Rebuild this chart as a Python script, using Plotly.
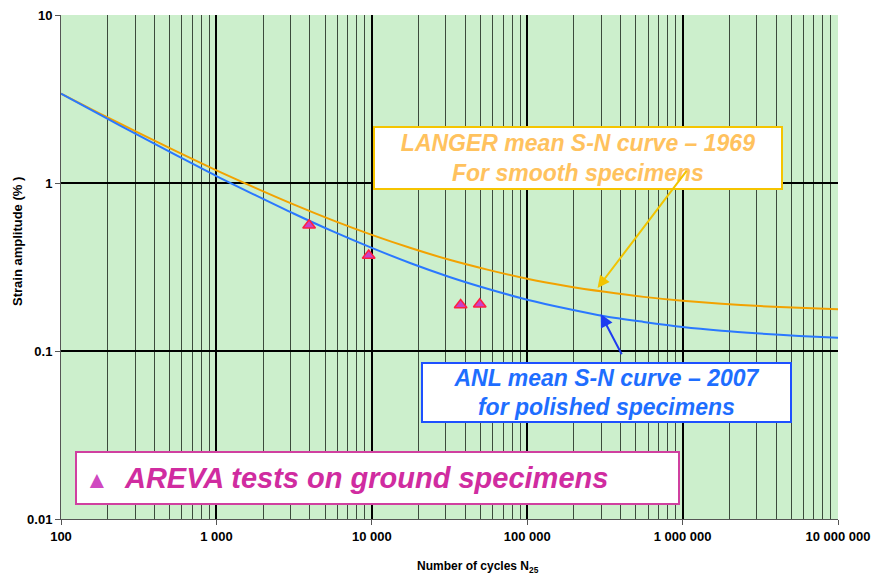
import plotly.graph_objects as go

# ---- data (quarter-decade readings) ----
cycles = [100, 178, 316, 562, 1000, 1780, 3160, 5620, 10000, 17800, 31600, 56200,
          100000, 178000, 316000, 562000, 1000000, 1780000, 3160000, 5620000, 10000000]
langer_strain = [3.40, 2.59, 1.99, 1.53, 1.19, 0.935, 0.743, 0.599, 0.491, 0.410, 0.349, 0.304,
                 0.269, 0.244, 0.225, 0.210, 0.199, 0.191, 0.185, 0.181, 0.177]
anl_strain = [3.40, 2.55, 1.92, 1.45, 1.10, 0.847, 0.656, 0.515, 0.411, 0.333, 0.276, 0.234,
              0.202, 0.179, 0.161, 0.149, 0.139, 0.132, 0.127, 0.123, 0.120]
areva_cycles = [3950, 9550, 37300, 49500]
areva_strain = [0.56, 0.37, 0.188, 0.19]

x_tickvals = [100, 1000, 10000, 100000, 1000000, 10000000]
x_ticktext = ["100", "1 000", "10 000", "100 000", "1 000 000", "10 000 000"]
y_tickvals = [0.01, 0.1, 1, 10]
y_ticktext = ["0.01", "0.1", "1", "10"]

FONT = "Liberation Sans, Arial, sans-serif"
x_minor = [m * d for d in [100, 1000, 10000, 100000, 1000000] for m in range(2, 10)]

fig = go.Figure()
fig.add_trace(go.Scatter(x=cycles, y=langer_strain, mode="lines",
                         line=dict(color="#f2a200", width=2, shape="spline", smoothing=0.8),
                         showlegend=False, hoverinfo="skip"))
fig.add_trace(go.Scatter(x=cycles, y=anl_strain, mode="lines",
                         line=dict(color="#2a78ff", width=2, shape="spline", smoothing=0.8),
                         showlegend=False, hoverinfo="skip"))
fig.add_trace(go.Scatter(x=areva_cycles, y=areva_strain, mode="markers",
                         marker=dict(symbol="triangle-up", size=11, color="#c840c8",
                                     line=dict(color="#ff2040", width=1.5)),
                         showlegend=False))

fig.update_xaxes(type="log", range=[2, 7], tickvals=x_tickvals, ticktext=x_ticktext,
                 automargin=False,
                 showgrid=True, gridcolor="#000000", gridwidth=2,
                 minor=dict(tickmode="array", tickvals=x_minor, showgrid=True, gridcolor="#3c4a3c",
                            gridwidth=1, ticks=""),
                 showline=True, linecolor="#555555", linewidth=1,
                 ticks="outside", ticklen=5, tickcolor="#555555",
                 tickfont=dict(family=FONT, size=13, color="#000000", weight="bold"),
                 zeroline=False)
fig.update_yaxes(type="log", range=[-2, 1], tickvals=y_tickvals, ticktext=y_ticktext,
                 automargin=False,
                 showgrid=True, gridcolor="#000000", gridwidth=1.5,
                 showline=True, linecolor="#555555", linewidth=1,
                 ticks="outside", ticklen=5, tickcolor="#555555",
                 tickfont=dict(family=FONT, size=13, color="#000000", weight="bold"),
                 zeroline=False)

annotations = [
    # LANGER box
    dict(xref="paper", yref="paper", x=(578 - 61) / 777, y=(519 - 158) / 504,
         xanchor="center", yanchor="middle", showarrow=False,
         text="<b><i>LANGER mean S-N curve – 1969<br>For smooth specimens</i></b>",
         font=dict(family=FONT, size=23, color="#ffc25e"),
         bgcolor="#ffffff", bordercolor="#f5c400", borderwidth=2, borderpad=0,
         width=406, height=60),
    # ANL box
    dict(xref="paper", yref="paper", x=(606.5 - 61) / 777, y=(519 - 392.5) / 504,
         xanchor="center", yanchor="middle", showarrow=False,
         text="<b><i>ANL mean S-N curve – 2007<br>for polished specimens</i></b>",
         font=dict(family=FONT, size=23, color="#1e6eff"),
         bgcolor="#ffffff", bordercolor="#1e50ff", borderwidth=2, borderpad=0,
         width=367, height=57),
    # AREVA box
    dict(xref="paper", yref="paper", x=(377.5 - 61) / 777, y=(519 - 478) / 504,
         xanchor="center", yanchor="middle", showarrow=False, align="left",
         text="&nbsp;<span style='color:#d048c0;font-size:24px'>▲</span>&nbsp; <b><i>AREVA tests on ground specimens</i></b>",
         font=dict(family=FONT, size=29, color="#d02ca0"),
         bgcolor="#ffffff", bordercolor="#d040a0", borderwidth=2, borderpad=0,
         width=601, height=50),
    # arrows
    dict(xref="x", yref="y", x=5.453, y=-0.625, ax=92, ay=-121, text=" ",
         showarrow=True, arrowhead=2, arrowsize=1.2, arrowwidth=2, arrowcolor="#f2c400", standoff=0),
    dict(xref="x", yref="y", x=5.473, y=-0.780, ax=24, ay=46, text=" ",
         showarrow=True, arrowhead=2, arrowsize=1.3, arrowwidth=2, arrowcolor="#1e3cf0", standoff=0),
    # axis titles
    dict(xref="paper", yref="paper", x=(478 - 61) / 777, y=(519 - 567) / 504,
         xanchor="center", yanchor="middle", showarrow=False,
         text="<b>Number of cycles N<sub>25</sub></b>",
         font=dict(family=FONT, size=12, color="#000000")),
    dict(xref="paper", yref="paper", x=(18 - 61) / 777, y=(519 - 242) / 504,
         xanchor="center", yanchor="middle", showarrow=False, textangle=-90,
         text="<b>Strain amplitude (% )</b>",
         font=dict(family=FONT, size=13, color="#000000")),
]

fig.update_layout(width=875, height=576, autosize=False,
                  margin=dict(l=61, r=37, t=15, b=57),
                  plot_bgcolor="#ccefcc", paper_bgcolor="#ffffff",
                  annotations=annotations, showlegend=False)

fig.write_html("out.html", post_script="document.body.style.margin='0';",
               config={"displayModeBar": False})
